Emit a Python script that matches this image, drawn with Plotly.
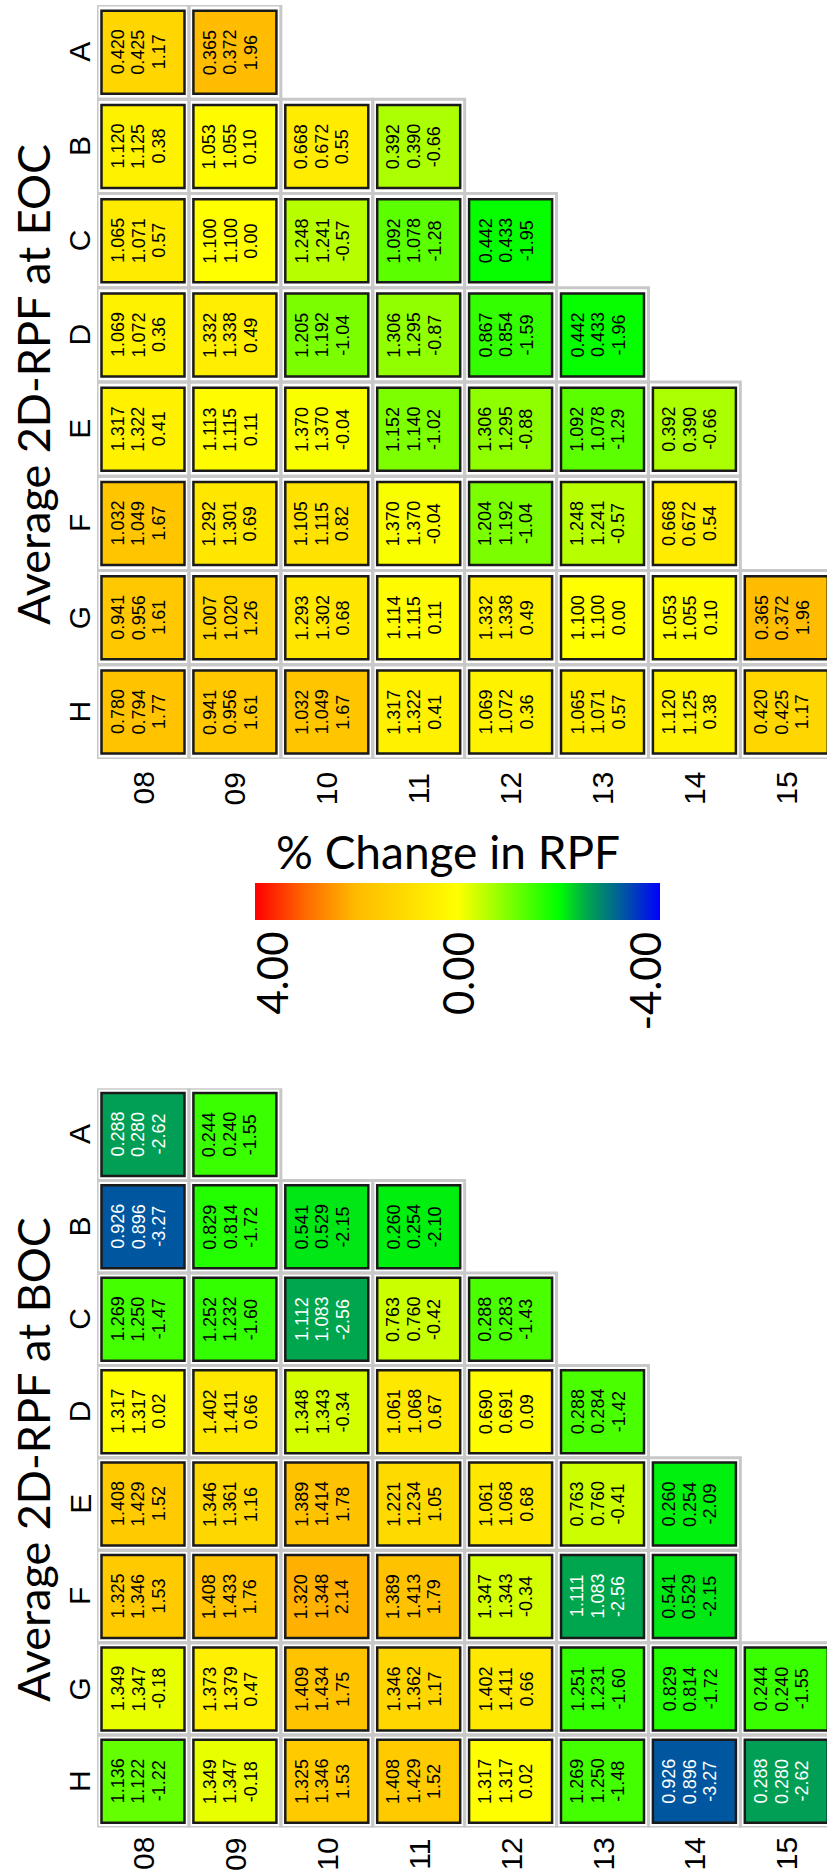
import plotly.graph_objects as go

# Core-map positions: rows 08-15, columns H..A (H first in every row)
ROWS = ["08", "09", "10", "11", "12", "13", "14", "15"]
COLS = ["H", "G", "F", "E", "D", "C", "B", "A"]

# Beginning of cycle: two RPF estimates and their % difference, per row
BOC_RPF_A = [
    [1.136, 1.349, 1.325, 1.408, 1.317, 1.269, 0.926, 0.288],
    [1.349, 1.373, 1.408, 1.346, 1.402, 1.252, 0.829, 0.244],
    [1.325, 1.409, 1.320, 1.389, 1.348, 1.112, 0.541],
    [1.408, 1.346, 1.389, 1.221, 1.061, 0.763, 0.260],
    [1.317, 1.402, 1.347, 1.061, 0.690, 0.288],
    [1.269, 1.251, 1.111, 0.763, 0.288],
    [0.926, 0.829, 0.541, 0.260],
    [0.288, 0.244],
]
BOC_RPF_B = [
    [1.122, 1.347, 1.346, 1.429, 1.317, 1.250, 0.896, 0.280],
    [1.347, 1.379, 1.433, 1.361, 1.411, 1.232, 0.814, 0.240],
    [1.346, 1.434, 1.348, 1.414, 1.343, 1.083, 0.529],
    [1.429, 1.362, 1.413, 1.234, 1.068, 0.760, 0.254],
    [1.317, 1.411, 1.343, 1.068, 0.691, 0.283],
    [1.250, 1.231, 1.083, 0.760, 0.284],
    [0.896, 0.814, 0.529, 0.254],
    [0.280, 0.240],
]
BOC_PCT = [
    [-1.22, -0.18, 1.53, 1.52, 0.02, -1.47, -3.27, -2.62],
    [-0.18, 0.47, 1.76, 1.16, 0.66, -1.60, -1.72, -1.55],
    [1.53, 1.75, 2.14, 1.78, -0.34, -2.56, -2.15],
    [1.52, 1.17, 1.79, 1.05, 0.67, -0.42, -2.10],
    [0.02, 0.66, -0.34, 0.68, 0.09, -1.43],
    [-1.48, -1.60, -2.56, -0.41, -1.42],
    [-3.27, -1.72, -2.15, -2.09],
    [-2.62, -1.55],
]

# End of cycle
EOC_RPF_A = [
    [0.780, 0.941, 1.032, 1.317, 1.069, 1.065, 1.120, 0.420],
    [0.941, 1.007, 1.292, 1.113, 1.332, 1.100, 1.053, 0.365],
    [1.032, 1.293, 1.105, 1.370, 1.205, 1.248, 0.668],
    [1.317, 1.114, 1.370, 1.152, 1.306, 1.092, 0.392],
    [1.069, 1.332, 1.204, 1.306, 0.867, 0.442],
    [1.065, 1.100, 1.248, 1.092, 0.442],
    [1.120, 1.053, 0.668, 0.392],
    [0.420, 0.365],
]
EOC_RPF_B = [
    [0.794, 0.956, 1.049, 1.322, 1.072, 1.071, 1.125, 0.425],
    [0.956, 1.020, 1.301, 1.115, 1.338, 1.100, 1.055, 0.372],
    [1.049, 1.302, 1.115, 1.370, 1.192, 1.241, 0.672],
    [1.322, 1.115, 1.370, 1.140, 1.295, 1.078, 0.390],
    [1.072, 1.338, 1.192, 1.295, 0.854, 0.433],
    [1.071, 1.100, 1.241, 1.078, 0.433],
    [1.125, 1.055, 0.672, 0.390],
    [0.425, 0.372],
]
EOC_PCT = [
    [1.77, 1.61, 1.67, 0.41, 0.36, 0.57, 0.38, 1.17],
    [1.61, 1.26, 0.69, 0.11, 0.49, 0.00, 0.10, 1.96],
    [1.67, 0.68, 0.82, -0.04, -1.04, -0.57, 0.55],
    [0.41, 0.11, -0.04, -1.02, -0.87, -1.28, -0.66],
    [0.36, 0.49, -1.04, -0.88, -1.59, -1.95],
    [0.57, 0.00, -0.57, -1.29, -1.96],
    [0.38, 0.10, 0.54, -0.66],
    [1.17, 1.96],
]

PCT_LIMIT = 4.0
CB_TICKS = [4.0, 0.0, -4.0]
CB_TITLE = "% Change in RPF"

# ---- page geometry (pixels) ----
W, H = 827, 1870
COL_PITCH = 91.9          # horizontal spacing of the row columns
X_FIRST = 143.0           # centre of the "08" column
CELL = 83                 # coloured square side (plus border)
TEXT_SHIFTS = [-25, -4.5, 16]

LABEL_FONT = "Liberation Sans, Arial, sans-serif"
TITLE_FONT = "Lato, Open Sans, sans-serif"

# % change is plotted negated so the horizontal colour bar reads +4 (left) to -4 (right)
COLORSCALE = [
    [0.0, "#ff0000"],
    [0.125, "#ff6a00"],
    [0.25, "#ffbb00"],
    [0.375, "#ffdc00"],
    [0.5, "#ffff00"],
    [0.625, "#80ff00"],
    [0.75, "#00ff00"],
    [0.82, "#00a64e"],
    [0.90875, "#0057a0"],
    [1.0, "#0000ff"],
]


def py(p):
    """pixel row -> paper y"""
    return 1 - p / H


panels = [
    dict(tag="BOC", a=BOC_RPF_A, b=BOC_RPF_B, pct=BOC_PCT, xa="x", ya="y",
         top=1088.2, bottom=1827.5, label_y=1854, title_y=1460),
    dict(tag="EOC", a=EOC_RPF_A, b=EOC_RPF_B, pct=EOC_PCT, xa="x2", ya="y2",
         top=5.1, bottom=759.1, label_y=788.5, title_y=385),
]

fig = go.Figure()
shapes, annotations = [], []

for k, pn in enumerate(panels):
    xs, ys, zs, hover = [], [], [], []
    for r, row in enumerate(ROWS):
        for c, p in enumerate(pn["pct"][r]):
            a, b = pn["a"][r][c], pn["b"][r][c]
            xs.append(r)
            ys.append(c)
            zs.append(-p)
            hover.append(f"{COLS[c]}-{row}<br>{a:.3f}<br>{b:.3f}<br>{p:.2f}%")
            # light grey cell frame
            shapes.append(dict(type="rect", xref=pn["xa"], yref=pn["ya"],
                               x0=r - 0.5, x1=r + 0.5, y0=c - 0.5, y1=c + 0.5,
                               line=dict(color="#c8c8c8", width=3),
                               fillcolor="rgba(0,0,0,0)", layer="below"))
            txt_color = "white" if p < -2.3 else "black"
            for line, shift in zip([f"{a:.3f}", f"{b:.3f}", f"{p:.2f}"], TEXT_SHIFTS):
                annotations.append(dict(
                    x=r, y=c, xref=pn["xa"], yref=pn["ya"], text=line,
                    textangle=-90, showarrow=False, xshift=shift,
                    xanchor="center", yanchor="middle",
                    font=dict(family=LABEL_FONT, size=18, color=txt_color)))

    fig.add_trace(go.Scatter(
        x=xs, y=ys, mode="markers", xaxis=pn["xa"], yaxis=pn["ya"],
        marker=dict(symbol="square", size=CELL, color=zs, coloraxis="coloraxis",
                    line=dict(color="#1a1a1a", width=2.5)),
        text=hover, hoverinfo="text", showlegend=False))

    # row labels along the bottom
    for r, row in enumerate(ROWS):
        annotations.append(dict(x=r, y=py(pn["label_y"]), xref=pn["xa"], yref="paper",
                                text=row, textangle=-90, showarrow=False,
                                xanchor="center", yanchor="middle",
                                font=dict(family=LABEL_FONT, size=30, color="black")))
    # column letters along the left
    for c, col in enumerate(COLS):
        annotations.append(dict(x=79.6 / W, y=c, xref="paper", yref=pn["ya"],
                                text=col, textangle=-90, showarrow=False,
                                xanchor="center", yanchor="middle",
                                font=dict(family=LABEL_FONT, size=30, color="black")))
    # panel title
    annotations.append(dict(x=33 / W, y=py(pn["title_y"]), xref="paper", yref="paper",
                            text=f"Average 2D-RPF at {pn['tag']}", textangle=-90,
                            showarrow=False, xanchor="center", yanchor="middle",
                            font=dict(family=TITLE_FONT, size=45, color="black")))

# ---- colour bar and its labels ----
CB_LEFT, CB_RIGHT, CB_TOP, CB_THICK = 255, 660, 883, 37
cb_len = CB_RIGHT - CB_LEFT
annotations.append(dict(x=448 / W, y=py(851), xref="paper", yref="paper", text=CB_TITLE,
                        showarrow=False, xanchor="center", yanchor="middle",
                        font=dict(family=TITLE_FONT, size=46, color="black")))
for v in CB_TICKS:
    pos = CB_LEFT + (PCT_LIMIT - v) / (2 * PCT_LIMIT) * cb_len
    pos = min(max(pos, CB_LEFT + 16), CB_RIGHT - 16)
    annotations.append(dict(x=pos / W, y=py(930), xref="paper", yref="paper",
                            text=f"{v:.2f}", textangle=-90, showarrow=False,
                            xanchor="center", yanchor="top",
                            font=dict(family=TITLE_FONT, size=42, color="black")))

x_dom = [(X_FIRST - COL_PITCH / 2) / W, 1.0]
x_rng = [-0.5, (W - X_FIRST) / COL_PITCH]
axis_common = dict(visible=False, fixedrange=True)

fig.update_layout(
    width=W, height=H,
    margin=dict(l=0, r=0, t=0, b=0),
    paper_bgcolor="white", plot_bgcolor="white",
    showlegend=False,
    xaxis=dict(domain=x_dom, range=x_rng, anchor="y", **axis_common),
    yaxis=dict(domain=[py(panels[0]["bottom"]), py(panels[0]["top"])],
               range=[-0.5, 7.5], anchor="x", **axis_common),
    xaxis2=dict(domain=x_dom, range=x_rng, anchor="y2", **axis_common),
    yaxis2=dict(domain=[py(panels[1]["bottom"]), py(panels[1]["top"])],
                range=[-0.5, 7.5], anchor="x2", **axis_common),
    coloraxis=dict(
        colorscale=COLORSCALE, cmin=-PCT_LIMIT, cmax=PCT_LIMIT,
        colorbar=dict(orientation="h", x=(CB_LEFT + CB_RIGHT) / 2 / W, xanchor="center",
                      y=py(CB_TOP), yanchor="top", len=cb_len, lenmode="pixels",
                      thickness=CB_THICK, thicknessmode="pixels", xpad=0, ypad=0,
                      outlinewidth=0, showticklabels=False, ticks="")),
    shapes=shapes,
    annotations=annotations,
)

fig.write_html("out.html")
